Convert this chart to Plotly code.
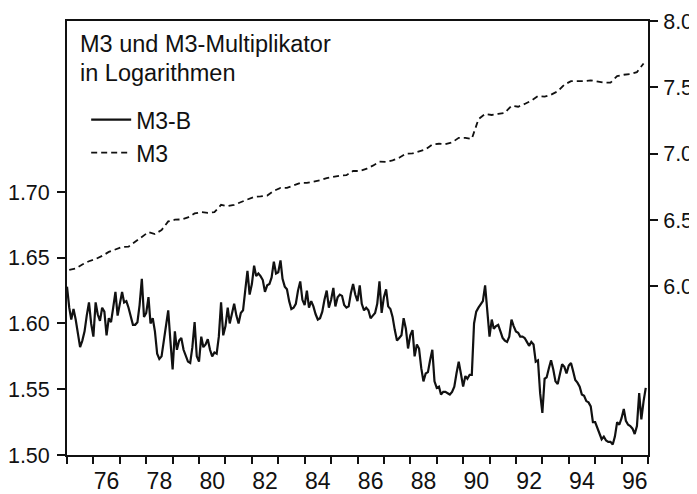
import pandas as pd
import plotly.graph_objects as go

# M3-Multiplikator (M3-B), monthly 1975:01 - 1996:12, log scale (left axis)
m3b_values = [
    1.628, 1.612, 1.603, 1.611, 1.603, 1.592, 1.582, 1.587, 1.594, 1.606, 1.616, 1.600,  # 75
    1.590, 1.616, 1.607, 1.602, 1.612, 1.609, 1.591, 1.604, 1.601, 1.612, 1.624, 1.606,  # 76
    1.614, 1.624, 1.616, 1.617, 1.612, 1.605, 1.599, 1.599, 1.601, 1.614, 1.634, 1.605,  # 77
    1.608, 1.620, 1.600, 1.604, 1.594, 1.577, 1.573, 1.575, 1.588, 1.600, 1.610, 1.587,  # 78
    1.565, 1.594, 1.580, 1.587, 1.589, 1.580, 1.575, 1.571, 1.570, 1.582, 1.601, 1.575,  # 79
    1.571, 1.590, 1.582, 1.584, 1.588, 1.580, 1.575, 1.578, 1.577, 1.590, 1.616, 1.591,  # 80
    1.598, 1.612, 1.600, 1.609, 1.615, 1.606, 1.600, 1.608, 1.610, 1.625, 1.640, 1.622,  # 81
    1.630, 1.644, 1.636, 1.638, 1.636, 1.633, 1.624, 1.629, 1.630, 1.635, 1.647, 1.638,  # 82
    1.639, 1.648, 1.634, 1.628, 1.626, 1.617, 1.611, 1.612, 1.615, 1.625, 1.632, 1.618,  # 83
    1.614, 1.625, 1.612, 1.617, 1.613, 1.607, 1.603, 1.604, 1.609, 1.618, 1.625, 1.612,  # 84
    1.618, 1.627, 1.613, 1.620, 1.622, 1.621, 1.614, 1.612, 1.613, 1.623, 1.630, 1.622,  # 85
    1.617, 1.629, 1.615, 1.610, 1.612, 1.610, 1.604, 1.606, 1.608, 1.615, 1.632, 1.608,  # 86
    1.620, 1.626, 1.613, 1.611, 1.605, 1.595, 1.587, 1.589, 1.591, 1.604, 1.596, 1.581,  # 87
    1.591, 1.595, 1.575, 1.584, 1.581, 1.566, 1.556, 1.562, 1.563, 1.572, 1.580, 1.556,  # 88
    1.551, 1.552, 1.546, 1.548, 1.548, 1.547, 1.546, 1.548, 1.552, 1.562, 1.571, 1.562,  # 89
    1.552, 1.560, 1.558, 1.561, 1.561, 1.600, 1.609, 1.612, 1.615, 1.617, 1.629, 1.611,  # 90
    1.590, 1.603, 1.596, 1.598, 1.599, 1.594, 1.589, 1.587, 1.586, 1.590, 1.603, 1.598,  # 91
    1.594, 1.593, 1.590, 1.590, 1.589, 1.586, 1.583, 1.586, 1.584, 1.571, 1.572, 1.547,  # 92
    1.532, 1.558, 1.559, 1.566, 1.572, 1.565, 1.556, 1.554, 1.562, 1.569, 1.567, 1.562,  # 93
    1.568, 1.570, 1.564, 1.557, 1.555, 1.552, 1.546, 1.545, 1.541, 1.540, 1.537, 1.525,  # 94
    1.525, 1.520, 1.516, 1.512, 1.514, 1.511, 1.510, 1.510, 1.508, 1.514, 1.525, 1.523,  # 95
    1.528, 1.535, 1.526, 1.523, 1.522, 1.520, 1.516, 1.522, 1.547, 1.527, 1.541, 1.551,  # 96
]

# M3, quarterly 1975Q1 - 1996Q4, log scale (right axis)
m3_values = [
    6.124, 6.135, 6.165, 6.190, 6.207, 6.230, 6.260, 6.280,
    6.297, 6.300, 6.335, 6.370, 6.410, 6.395, 6.425, 6.490,
    6.503, 6.505, 6.520, 6.550, 6.560, 6.555, 6.560, 6.615,
    6.605, 6.615, 6.635, 6.660, 6.675, 6.679, 6.685, 6.720,
    6.742, 6.742, 6.760, 6.780, 6.780, 6.790, 6.800, 6.816,
    6.828, 6.835, 6.838, 6.870, 6.870, 6.885, 6.910, 6.940,
    6.938, 6.950, 6.970, 7.000, 7.002, 7.015, 7.033, 7.070,
    7.075, 7.072, 7.085, 7.120, 7.120, 7.112, 7.260, 7.300,
    7.292, 7.300, 7.308, 7.362, 7.354, 7.375, 7.400, 7.434,
    7.430, 7.445, 7.470, 7.520, 7.547, 7.547, 7.547, 7.553,
    7.545, 7.535, 7.535, 7.585, 7.595, 7.600, 7.615, 7.680,
]

monthly_dates = pd.date_range("1975-01-01", periods=len(m3b_values), freq="MS")
quarter_dates = pd.date_range("1975-02-01", periods=len(m3_values), freq="3MS")

# year labels sit in the middle of each labelled year
year_labels = ["76", "78", "80", "82", "84", "86", "88", "90", "92", "94", "96"]
year_label_pos = [f"19{y}-07-02" for y in year_labels]

left_ticks = [1.50, 1.55, 1.60, 1.65, 1.70]
right_ticks = [6.0, 6.5, 7.0, 7.5, 8.0]

FONT = "Liberation Sans, Arial, sans-serif"
INK = "#111111"

fig = go.Figure()
fig.add_trace(go.Scatter(
    x=monthly_dates, y=m3b_values, name="M3-B", mode="lines",
    line=dict(color=INK, width=2.2),
))
fig.add_trace(go.Scatter(
    x=quarter_dates, y=m3_values, name="M3", mode="lines", yaxis="y2",
    line=dict(color=INK, width=1.8, dash="6px,4px"),
))

# the page body adds an 8px offset, so the margins are trimmed on top/left
fig.update_layout(
    width=697, height=494,
    margin=dict(l=59, r=57, t=13, b=47, autoexpand=False),
    paper_bgcolor="white", plot_bgcolor="white",
    font=dict(family=FONT, size=22, color=INK),
    showlegend=True,
    legend=dict(
        x=0.033, y=0.822, xanchor="left", yanchor="top",
        bgcolor="rgba(0,0,0,0)", font=dict(size=23),
        itemwidth=40, tracegroupgap=0,
    ),
    xaxis=dict(
        type="date", range=["1975-01-01", "1997-01-01"], automargin=False,
        tickvals=year_label_pos, ticktext=year_labels, tickfont=dict(size=23),
        ticks="outside", ticklen=4, tickcolor="rgba(0,0,0,0)",
        minor=dict(dtick="M12", tick0="1975-01-01", ticks="outside",
                   ticklen=7, tickwidth=1.5, tickcolor=INK, showgrid=False),
        showgrid=False, zeroline=False,
        showline=True, linecolor=INK, linewidth=1.8, mirror=True,
    ),
    yaxis=dict(
        range=[1.50, 1.83], automargin=False,
        tickvals=left_ticks, ticktext=[f"{v:.2f}" for v in left_ticks],
        tickfont=dict(size=21.5),
        ticks="outside", ticklen=8, tickwidth=1.5, tickcolor=INK,
        ticklabelstandoff=3,
        showgrid=False, zeroline=False,
        showline=True, linecolor=INK, linewidth=1.8,
    ),
    yaxis2=dict(
        range=[4.73, 8.0], overlaying="y", side="right", automargin=False,
        tickvals=right_ticks, ticktext=[f"{v:.1f}" for v in right_ticks],
        tickfont=dict(size=21.5),
        ticks="outside", ticklen=8, tickwidth=1.5, tickcolor=INK,
        ticklabelstandoff=1,
        showgrid=False, zeroline=False,
        showline=True, linecolor=INK, linewidth=1.8,
    ),
    annotations=[
        dict(text="M3 und M3-Multiplikator", xref="paper", yref="paper",
             x=0.019, y=0.946, xanchor="left", yanchor="middle",
             showarrow=False, font=dict(size=23.5)),
        dict(text="in Logarithmen", xref="paper", yref="paper",
             x=0.019, y=0.880, xanchor="left", yanchor="middle",
             showarrow=False, font=dict(size=23.5)),
    ],
)

fig.write_html("out.html")
